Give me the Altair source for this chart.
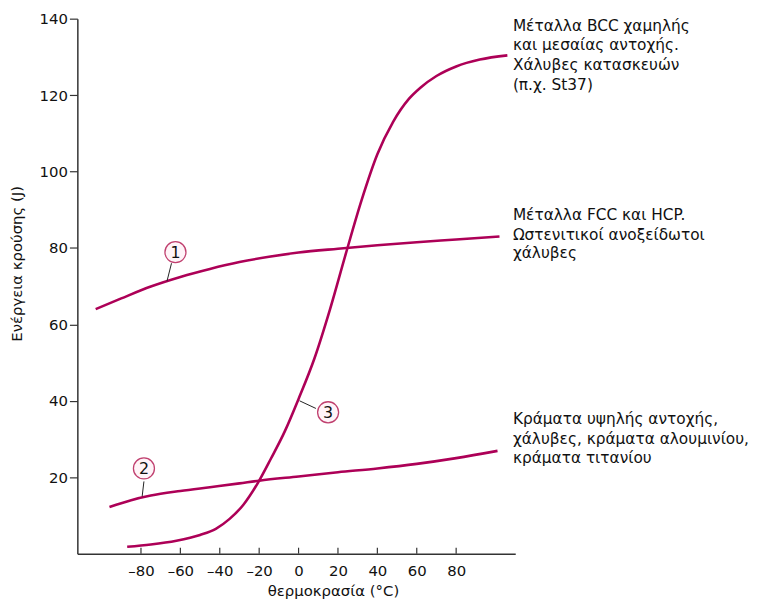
import altair as alt
import pandas as pd

# Curve 1: FCC / HCP metals
c1_x = [-103, -90, -75, -60, -45, -30, -15, 0, 20, 40, 60, 80, 102]
c1_y = [64.0, 66.8, 69.9, 72.4, 74.5, 76.3, 77.7, 78.8, 79.8, 80.7, 81.5, 82.2, 83.0]
# Curve 2: high-strength alloys
c2_x = [-96, -85, -75, -60, -45, -30, -20, 0, 20, 40, 60, 80, 101]
c2_y = [12.2, 14.0, 15.2, 16.4, 17.4, 18.4, 19.1, 20.2, 21.3, 22.3, 23.5, 25.0, 26.9]
# Curve 3: BCC metals
c3_x = [-87, -75, -62, -50, -42, -35, -28, -21, -14, -7, 0, 8, 16, 24, 32, 40, 48, 56, 62, 70, 80, 92, 106]
c3_y = [1.8, 2.4, 3.4, 4.9, 6.5, 9.1, 12.8, 18.2, 24.9, 32.0, 40.5, 51.0, 64.0, 78.5, 92.5, 104.5, 113.0, 119.0, 122.0, 125.0, 127.5, 129.3, 130.4]

# Numbered markers and their leader lines
mark_labels = ["1", "2", "3"]
mark_x = [-62.5, -78.5, 15.0]
mark_y = [78.9, 22.3, 37.0]
lead_x = [-66.8, -79.4, 0.5]
lead_y = [71.3, 15.0, 40.0]
lead_x2 = [-64.5, -78.5, 8.8]
lead_y2 = [76.0, 18.9, 38.0]

# Annotations at the right
ann_lines = [
    "Μέταλλα BCC χαμηλής", "και μεσαίας αντοχής.", "Χάλυβες κατασκευών", "(π.χ. St37)",
    "Μέταλλα FCC και HCP.", "Ωστενιτικοί ανοξείδωτοι", "χάλυβες",
    "Κράματα υψηλής αντοχής,", "χάλυβες, κράματα αλουμινίου,", "κράματα τιτανίου",
]
ann_y = [138.2, 133.0, 127.9, 122.7, 88.7, 83.5, 78.7, 35.1, 29.9, 25.0]
ann_x = 108.8

x_ticks = [-80, -60, -40, -20, 0, 20, 40, 60, 80]
y_ticks = [20, 40, 60, 80, 100, 120, 140]

COLOR = "#ad0057"
FONT = "DejaVu Sans"

curves = pd.concat([
    pd.DataFrame({"x": c1_x, "y": c1_y, "c": "1"}),
    pd.DataFrame({"x": c2_x, "y": c2_y, "c": "2"}),
    pd.DataFrame({"x": c3_x, "y": c3_y, "c": "3"}),
])

xs = alt.Scale(domain=[-112.3, 110], nice=False, zero=False)
ys = alt.Scale(domain=[0, 140], nice=False, zero=False)

x_axis = alt.Axis(values=x_ticks, ticks=False, grid=False, labelPadding=10,
                  title="θερμοκρασία (°C)", titleX=258, titlePadding=5,
                  labelExpr="replace(datum.label, '−', '–')")
y_axis = alt.Axis(values=y_ticks, tickSize=8, grid=False, labelPadding=2,
                  title="Ενέργεια κρούσης (J)", titleX=-53, titleY=247)

lines = alt.Chart(curves).mark_line(color=COLOR, strokeWidth=2.6, interpolate="monotone").encode(
    x=alt.X("x:Q", scale=xs, axis=x_axis),
    y=alt.Y("y:Q", scale=ys, axis=y_axis),
    detail="c:N",
)

tick_df = pd.DataFrame({"t": x_ticks})
ticks = alt.Chart(tick_df).mark_rule(color="#333333", strokeWidth=1.2).encode(
    x=alt.X("t:Q", scale=xs),
    y=alt.value(534),
    y2=alt.value(540),
)

lead_df = pd.DataFrame({"x": lead_x, "y": lead_y, "x2": lead_x2, "y2": lead_y2})
leaders = alt.Chart(lead_df).mark_rule(color="#222222", strokeWidth=1).encode(
    x=alt.X("x:Q", scale=xs), y=alt.Y("y:Q", scale=ys), x2="x2:Q", y2="y2:Q",
)

mk_df = pd.DataFrame({"x": mark_x, "y": mark_y, "t": mark_labels})
circles = alt.Chart(mk_df).mark_point(shape="circle", filled=True, fill="#fff4f8", stroke="#c0406f",
                                      strokeWidth=1.3, size=450, opacity=1).encode(
    x=alt.X("x:Q", scale=xs), y=alt.Y("y:Q", scale=ys),
)
nums = alt.Chart(mk_df).mark_text(font=FONT, fontSize=16, color="#111111", baseline="middle", dy=1).encode(
    x=alt.X("x:Q", scale=xs), y=alt.Y("y:Q", scale=ys), text="t:N",
)

ann_df = pd.DataFrame({"t": ann_lines, "y": ann_y, "x": ann_x})
ann = alt.Chart(ann_df).mark_text(font=FONT, fontSize=15.5, color="#111111", align="left", baseline="middle").encode(
    x=alt.X("x:Q", scale=xs), y=alt.Y("y:Q", scale=ys), text="t:N",
)

chart = alt.layer(lines, ticks, leaders, circles, nums, ann).properties(
    width=442, height=540,
    autosize=alt.AutoSizeParams(type="none"),
    padding={"left": 70, "top": 8, "right": 242, "bottom": 44},
).configure_view(stroke=None).configure_axis(
    labelFont=FONT, titleFont=FONT, labelFontSize=15, titleFontSize=15,
    labelColor="#111111", titleColor="#111111", titleFontWeight="normal",
    domainColor="#333333", domainWidth=1.5, tickColor="#333333", tickWidth=1.2,
)

chart.save("out.html", embed_options={"renderer": "svg", "actions": False})
